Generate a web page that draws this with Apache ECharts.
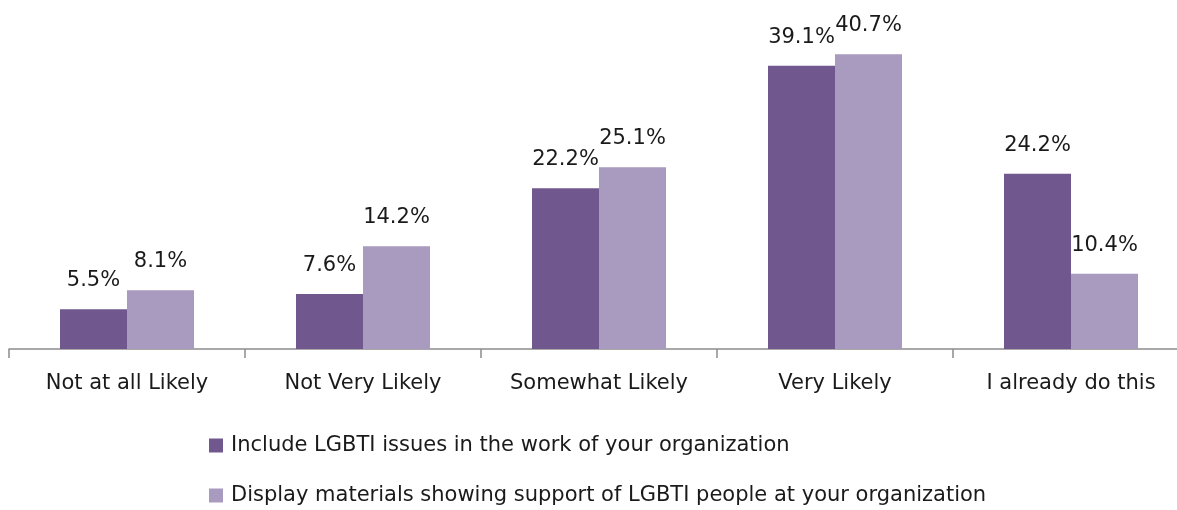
<!DOCTYPE html>
<html>
<head>
<meta charset="utf-8">
<script src="https://cdn.jsdelivr.net/npm/echarts@6/dist/echarts.min.js"></script>
<style>
  html, body { margin: 0; padding: 0; background: #fff; width: 1177px; height: 510px; overflow: hidden; }
  #chart { width: 1190px; height: 510px; }
</style>
</head>
<body>
<div id="chart"></div>
<script>
// Survey responses: likelihood of taking each action
const categories = ['Not at all Likely', 'Not Very Likely', 'Somewhat Likely', 'Very Likely', 'I already do this'];
const includeIssues = [5.5, 7.6, 22.2, 39.1, 24.2];
const displayMaterials = [8.1, 14.2, 25.1, 40.7, 10.4];
const seriesNames = [
  'Include LGBTI issues in the work of your organization',
  'Display materials showing support of LGBTI people at your organization'
];

const font = '"DejaVu Sans", "Open Sans", sans-serif';
const textColor = '#1a1a1a';

const chart = echarts.init(document.getElementById('chart'), null, { renderer: 'canvas' });

const labelOpt = {
  show: true,
  position: 'top',
  distance: 18,
  color: textColor,
  fontFamily: font,
  fontSize: 21,
  formatter: p => p.value.toFixed(1) + '%'
};

// One legend row per series, stacked vertically
const legendRow = (name, top) => ({
  left: 204,
  top: top,
  itemWidth: 14,
  itemHeight: 14,
  itemGap: 0,
  icon: 'rect',
  textStyle: { color: textColor, fontFamily: font, fontSize: 21, padding: [0, 0, 0, 3] },
  data: [name]
});

chart.setOption({
  animation: false,
  grid: { left: 9, right: 1, top: 23, bottom: 161, containLabel: false },
  legend: [legendRow(seriesNames[0], 430), legendRow(seriesNames[1], 480)],
  xAxis: {
    type: 'category',
    data: categories,
    axisLine: { lineStyle: { color: '#8c8c8c', width: 1.5 } },
    axisTick: { show: true, length: 9, lineStyle: { color: '#8c8c8c', width: 1.5 } },
    axisLabel: { color: textColor, fontFamily: font, fontSize: 21, margin: 24 }
  },
  yAxis: {
    type: 'value',
    min: 0,
    max: 45,
    show: false,
    splitLine: { show: false }
  },
  series: [
    {
      name: seriesNames[0],
      type: 'bar',
      data: includeIssues,
      barWidth: 67,
      barGap: '0%',
      itemStyle: { color: '#70578e' },
      label: labelOpt
    },
    {
      name: seriesNames[1],
      type: 'bar',
      data: displayMaterials,
      barWidth: 67,
      barGap: '0%',
      itemStyle: { color: '#a99abf' },
      label: labelOpt
    }
  ]
});
</script>
</body>
</html>
